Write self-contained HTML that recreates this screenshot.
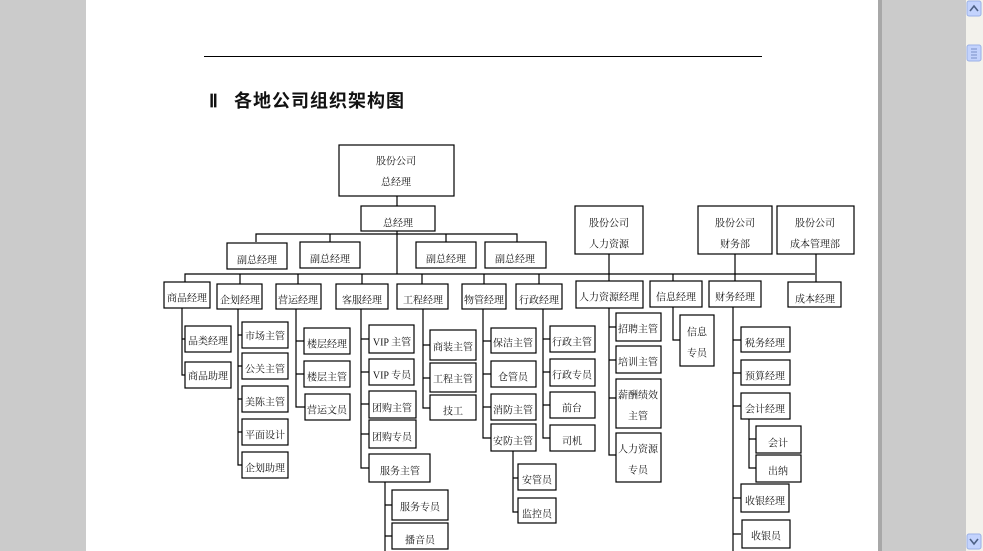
<!DOCTYPE html>
<html><head><meta charset="utf-8"><style>
html,body{margin:0;padding:0;width:983px;height:551px;overflow:hidden;background:#cbcbcb}
svg{position:absolute;left:0;top:0}
text{font-family:"Liberation Serif","Noto Serif CJK SC","Noto Sans CJK SC",serif;font-size:10px;fill:#111;text-anchor:middle;dominant-baseline:central}
</style></head><body>
<svg width="983" height="551" viewBox="0 0 983 551">
<rect x="86" y="0" width="792" height="551" fill="#fff"/>
<rect x="878" y="0" width="4" height="551" fill="#a8a8a8"/>
<rect x="966" y="0" width="17" height="551" fill="#f3f2ec"/>
<rect x="967" y="1" width="14" height="15" rx="2" fill="#c3d3fd" stroke="#9bb0e6"/>
<path d="M970 11 L974 6 L978 11" fill="none" stroke="#4d6185" stroke-width="1.6"/>
<rect x="967" y="45" width="14" height="16" rx="2" fill="#c3d3fd" stroke="#9bb0e6"/>
<path d="M971 49h6M971 52h6M971 55h6M971 58h6" stroke="#7a8fc8"/>
<rect x="967" y="534" width="14" height="15" rx="2" fill="#c3d3fd" stroke="#9bb0e6"/>
<path d="M970 539 L974 544 L978 539" fill="none" stroke="#4d6185" stroke-width="1.6"/>
<line x1="204" y1="56.5" x2="762" y2="56.5" stroke="#000"/>
<text x="209" y="101" style="font-family:'Liberation Serif',serif;font-size:18px;font-weight:bold;text-anchor:start">Ⅱ</text>
<text x="234" y="101" style="font-family:'Liberation Sans','Noto Sans CJK SC',sans-serif;font-size:18px;font-weight:bold;text-anchor:start;letter-spacing:1px">各地公司组织架构图</text>
<g stroke="#000" stroke-width="1.2" fill="none">
<path d="M397 196V206M256 242V234H517V242M330 234V242M446 234V242M397 231V274"/>
<path d="M185 282V274H815M240 274V284M298 274V284M362 274V284M422 274V284M484 274V284M539 274V284M673 274V281M609 254V281M735 254V281M816 254V282"/>
<path d="M182 308V375H185M182 339H185"/>
<path d="M238 309V465H242M238 335H242M238 366H242M238 399H242M238 432H242"/>
<path d="M296 309V407H305M296 341H304M296 374H304"/>
<path d="M361 309V468H369M361 339H369M361 372H369M361 404H369M361 434H369"/>
<path d="M385 482V551M385 505H392M385 536H392"/>
<path d="M423 309V408H430M423 345H430M423 378H430"/>
<path d="M483 309V438H491M483 341H491M483 374H491M483 407H491"/>
<path d="M513 451V512H518M513 478H518"/>
<path d="M543 309V438H550M543 339H550M543 372H550M543 405H550"/>
<path d="M609 308V455H616M609 327H616M609 360H616M609 398H616"/>
<path d="M673 307V340H680"/>
<path d="M733 307V551M733 340H741M733 373H741M733 406H741M733 498H741M733 534H741"/>
<path d="M749 419V468H756M749 439H756"/>
</g>
<g stroke="#000" stroke-width="1.2" fill="#fff">
<rect x="339" y="145" width="115" height="51"/>
<rect x="361" y="206" width="74" height="25"/>
<rect x="227" y="243" width="60" height="26"/><rect x="300" y="242" width="60" height="26"/>
<rect x="416" y="242" width="60" height="26"/><rect x="485" y="242" width="61" height="26"/>
<rect x="575" y="206" width="68" height="48"/><rect x="698" y="206" width="74" height="48"/><rect x="777" y="206" width="77" height="48"/>
<rect x="164" y="282" width="46" height="26"/><rect x="217" y="284" width="45" height="25"/>
<rect x="276" y="284" width="45" height="25"/><rect x="336" y="284" width="52" height="25"/>
<rect x="397" y="284" width="51" height="25"/><rect x="462" y="284" width="44" height="25"/>
<rect x="516" y="284" width="46" height="25"/><rect x="576" y="281" width="67" height="27"/>
<rect x="650" y="281" width="52" height="26"/><rect x="709" y="281" width="52" height="26"/>
<rect x="788" y="282" width="53" height="25"/>
<rect x="185" y="326" width="46" height="26"/><rect x="185" y="362" width="46" height="26"/>
<rect x="242" y="322" width="46" height="26"/><rect x="242" y="353" width="46" height="26"/>
<rect x="242" y="386" width="46" height="26"/><rect x="242" y="419" width="46" height="26"/>
<rect x="242" y="452" width="46" height="26"/>
<rect x="304" y="328" width="46" height="26"/><rect x="304" y="361" width="46" height="26"/><rect x="305" y="394" width="45" height="26"/>
<rect x="369" y="325" width="45" height="28"/><rect x="369" y="359" width="45" height="26"/>
<rect x="369" y="391" width="47" height="27"/><rect x="369" y="420" width="47" height="28"/>
<rect x="369" y="454" width="61" height="28"/>
<rect x="392" y="490" width="56" height="30"/><rect x="392" y="523" width="56" height="26"/>
<rect x="430" y="330" width="46" height="30"/><rect x="430" y="363" width="46" height="29"/><rect x="430" y="395" width="46" height="25"/>
<rect x="491" y="328" width="45" height="25"/><rect x="491" y="361" width="45" height="26"/>
<rect x="491" y="394" width="45" height="26"/><rect x="491" y="424" width="45" height="27"/>
<rect x="518" y="464" width="38" height="26"/><rect x="518" y="498" width="38" height="25"/>
<rect x="550" y="326" width="45" height="26"/><rect x="550" y="359" width="45" height="27"/>
<rect x="550" y="392" width="45" height="26"/><rect x="550" y="425" width="45" height="26"/>
<rect x="616" y="313" width="45" height="28"/><rect x="616" y="346" width="45" height="27"/>
<rect x="616" y="379" width="45" height="49"/><rect x="616" y="433" width="45" height="49"/>
<rect x="680" y="315" width="34" height="51"/>
<rect x="741" y="327" width="49" height="25"/><rect x="741" y="360" width="49" height="25"/>
<rect x="741" y="393" width="49" height="26"/>
<rect x="756" y="426" width="45" height="27"/><rect x="756" y="455" width="45" height="27"/>
<rect x="741" y="484" width="48" height="28"/><rect x="742" y="520" width="48" height="28"/>
</g>
<g transform="translate(0,2)">
<text x="396" y="160">股份公司</text><text x="396" y="181">总经理</text>
<text x="398" y="222">总经理</text>
<text x="257" y="259">副总经理</text><text x="330" y="258">副总经理</text><text x="446" y="258">副总经理</text><text x="515" y="258">副总经理</text>
<text x="609" y="222">股份公司</text><text x="609" y="243">人力资源</text>
<text x="735" y="222">股份公司</text><text x="735" y="243">财务部</text>
<text x="815" y="222">股份公司</text><text x="815" y="243">成本管理部</text>
<text x="187" y="297">商品经理</text><text x="240" y="299">企划经理</text><text x="298" y="299">营运经理</text>
<text x="362" y="299">客服经理</text><text x="423" y="299">工程经理</text><text x="484" y="299">物管经理</text>
<text x="539" y="299">行政经理</text><text x="609" y="296">人力资源经理</text><text x="676" y="296">信息经理</text>
<text x="735" y="296">财务经理</text><text x="815" y="298">成本经理</text>
<text x="208" y="340">品类经理</text><text x="208" y="375">商品助理</text>
<text x="265" y="335">市场主管</text><text x="265" y="368">公关主管</text><text x="265" y="401">美陈主管</text>
<text x="265" y="434">平面设计</text><text x="265" y="467">企划助理</text>
<text x="327" y="343">楼层经理</text><text x="327" y="376">楼层主管</text><text x="327" y="409">营运文员</text>
<text x="392" y="341">VIP 主管</text><text x="392" y="374">VIP 专员</text>
<text x="392" y="407">团购主管</text><text x="392" y="436">团购专员</text><text x="400" y="470">服务主管</text>
<text x="420" y="506">服务专员</text><text x="420" y="539">播音员</text>
<text x="453" y="346">商装主管</text><text x="453" y="378">工程主管</text><text x="453" y="410">技工</text>
<text x="513" y="342">保洁主管</text><text x="513" y="376">仓管员</text><text x="513" y="409">消防主管</text><text x="513" y="440">安防主管</text>
<text x="537" y="479">安管员</text><text x="537" y="513">监控员</text>
<text x="572" y="341">行政主管</text><text x="572" y="374">行政专员</text><text x="572" y="407">前台</text><text x="572" y="440">司机</text>
<text x="638" y="328">招聘主管</text><text x="638" y="361">培训主管</text>
<text x="638" y="394">薪酬绩效</text><text x="638" y="415">主管</text>
<text x="638" y="448">人力资源</text><text x="638" y="469">专员</text>
<text x="697" y="331">信息</text><text x="697" y="352">专员</text>
<text x="765" y="342">税务经理</text><text x="765" y="375">预算经理</text><text x="765" y="408">会计经理</text>
<text x="778" y="442">会计</text><text x="778" y="470">出纳</text>
<text x="765" y="500">收银经理</text><text x="766" y="535">收银员</text>
</g>
</svg>
</body></html>
